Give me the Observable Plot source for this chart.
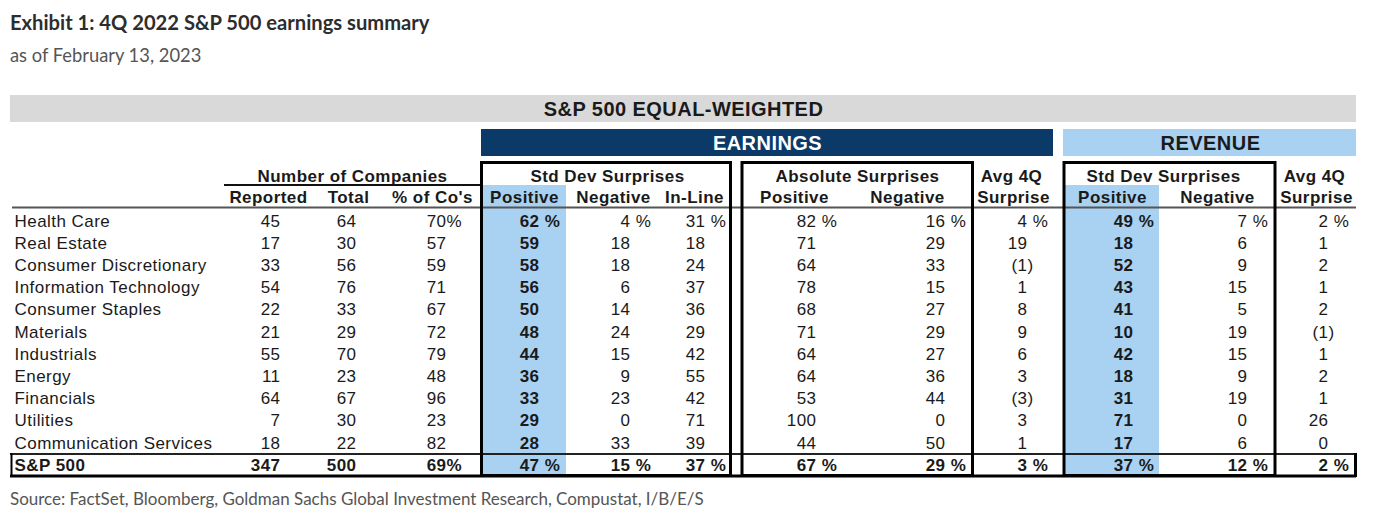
<!DOCTYPE html>
<html><head><meta charset="utf-8">
<script src="https://cdn.jsdelivr.net/npm/d3@7"></script>
<script src="https://cdn.jsdelivr.net/npm/@observablehq/plot@0.6"></script>
<style>
html,body{margin:0;padding:0;background:#fff;}
#page{position:relative;width:1376px;height:528px;overflow:hidden;background:#fff;}
.t{position:absolute;left:10px;white-space:nowrap;font-family:Lato,'Noto Sans',sans-serif;transform-origin:left top;}
#title{top:11px;font-size:21px;line-height:21px;font-weight:700;color:#2d2d2d;transform:scaleX(0.96);}
#subtitle{top:45px;font-size:19px;line-height:19px;color:#555;transform:scaleX(0.965);}
#source{top:489px;font-size:18px;line-height:18px;color:#555;transform:scaleX(0.943);}
#chart{position:absolute;left:0;top:88px;}
#chart svg text{letter-spacing:0.45px;}
#chart g[aria-label="band labels"] text{letter-spacing:0.6px;}
</style></head>
<body>
<div id="page">
  <div class="t" id="title">Exhibit 1: 4Q 2022 S&amp;P 500 earnings summary</div>
  <div class="t" id="subtitle">as of February 13, 2023</div>
  <div id="chart"></div>
  <div class="t" id="source">Source: FactSet, Bloomberg, Goldman Sachs Global Investment Research, Compustat, I/B/E/S</div>
</div>
<script>
// ---------- data ----------
const sectors = ["Health Care","Real Estate","Consumer Discretionary","Information Technology","Consumer Staples","Materials","Industrials","Energy","Financials","Utilities","Communication Services"];
const totalLabel = "S&P 500";
const reported       = [45,17,33,54,22,21,55,11,64,7,18];
const totalCos       = [64,30,56,76,33,29,70,23,67,30,22];
const pctReported    = [70,57,59,71,67,72,79,48,96,23,82];
const epsStdPositive = [62,59,58,56,50,48,44,36,33,29,28];
const epsStdNegative = [4,18,18,6,14,24,15,9,23,0,33];
const epsStdInLine   = [31,18,24,37,36,29,42,55,42,71,39];
const epsAbsPositive = [82,71,64,78,68,71,64,64,53,100,44];
const epsAbsNegative = [16,29,33,15,27,29,27,36,44,0,50];
const epsAvgSurprise = [4,19,-1,1,8,9,6,3,-3,3,1];
const revStdPositive = [49,18,52,43,41,10,42,18,31,71,17];
const revStdNegative = [7,6,9,15,5,19,15,9,19,0,6];
const revAvgSurprise = [2,1,2,1,2,-1,1,2,1,26,0];
const spxTotals      = [347,500,69,47,15,37,67,29,3,37,12,2];

const sectionTitle = "S&P 500 EQUAL-WEIGHTED";
const groupTitles = ["EARNINGS","REVENUE"];
const groupHeaders = ["Number of Companies","Std Dev Surprises","Absolute Surprises","Avg 4Q","Std Dev Surprises","Avg 4Q"];
const columnHeaders = ["Reported","Total","% of Co's","Positive","Negative","In-Line","Positive","Negative","Surprise","Positive","Negative","Surprise"];

const series = [reported,totalCos,pctReported,epsStdPositive,epsStdNegative,epsStdInLine,epsAbsPositive,epsAbsNegative,epsAvgSurprise,revStdPositive,revStdNegative,revAvgSurprise];
const countCols = [0, 1];        // plain counts, never shown with %
const noSpacePctCol = 2;         // "70%" rather than "70 %"

// ---------- layout (page units) ----------
const L = {
  colAnchor: [280,356,446,539,630,705,816,945,1027,1133,1247,1328],
  colHead:   [268,348,432,524,613,694,794,907,1013,1112,1217,1316],
  groupHead: [352,607,857,1011,1163,1314],
  boldCols: [3,9],
  labelX: 14,
  firstBaseline: 226, rowStep: 22.2,
  head1Baseline: 181, head2Baseline: 202,
  sectionBand: {x1:10,x2:1356,y1:95,y2:122,fill:"#d9d9d9"},
  groupBands: [{x1:481,x2:1053,y1:129,y2:156,fill:"#0b3a68"},{x1:1063,x2:1356,y1:129,y2:156,fill:"#a9d1f1"}],
  groupCenters: [767,1210], groupColors: ["#ffffff","#1a1a1a"], bandBaselines: [115.5,149],
  highlight: [{x1:483,x2:566,y1:185,y2:476,fill:"#a9d1f1"},{x1:1064,x2:1159,y1:185,y2:476,fill:"#a9d1f1"}],
  boxes: [{x1:481.5,x2:730.5,y1:162.5,y2:475.5},{x1:742,x2:972.5,y1:162.5,y2:475.5},{x1:1064,x2:1275,y1:162.5,y2:475.5}],
  hLines: [
    {y:184.5,x1:224,x2:481,stroke:"#111",w:2},
    {y:207,x1:12,x2:1356,stroke:"#555",w:2},
    {y:453.5,x1:10,x2:1356,stroke:"#222",w:2},
    {y:475.5,x1:10,x2:1356,stroke:"#000",w:3}
  ],
  vLines: [{x:11,y1:453,y2:477,w:2},{x:1355,y1:453,y2:477,w:3}]
};

const nRows = sectors.length;
const rowY = i => L.firstBaseline + i * L.rowStep;

// cells
const cells = [];
series.forEach((vals, c) => {
  const all = vals.concat([spxTotals[c]]);
  all.forEach((v, i) => {
    const isTotal = i === nRows;
    const pct = (i === 0 || isTotal) && !countCols.includes(c);
    cells.push({
      x: L.colAnchor[c], y: rowY(i),
      main: v < 0 ? "(" + (-v) : String(v),
      suffix: v < 0 ? ")" : pct ? (c === noSpacePctCol ? "%" : "\u00a0%") : "",
      bold: isTotal || L.boldCols.includes(c)
    });
  });
});
const labels = sectors.map((s, i) => ({x: L.labelX, y: rowY(i), text: s}));
const totalLabelRow = [{x: L.labelX, y: rowY(nRows), text: totalLabel}];
const head1 = groupHeaders.map((t, i) => ({x: L.groupHead[i], y: L.head1Baseline, text: t}));
const head2 = columnHeaders.map((t, i) => ({x: L.colHead[i], y: L.head2Baseline, text: t}));
const bandLabels = [
  {x: (L.sectionBand.x1 + L.sectionBand.x2) / 2, y: L.bandBaselines[0], text: sectionTitle, fill: "#1a1a1a"},
  ...groupTitles.map((t, i) => ({x: L.groupCenters[i], y: L.bandBaselines[1], text: t, fill: L.groupColors[i]}))
];

const plot = Plot.plot({
  width: 1376, height: 394, margin: 0,
  x: {type: "linear", domain: [0, 1376], range: [0, 1376], axis: null},
  y: {type: "linear", domain: [88, 482], range: [0, 394], axis: null},
  color: {type: "identity"},
  style: {fontFamily: "'Liberation Sans', Arial, sans-serif", fontSize: "17px", color: "#1a1a1a", background: "white", overflow: "visible"},
  marks: [
    Plot.rect([L.sectionBand, ...L.groupBands, ...L.highlight], {x1: "x1", x2: "x2", y1: "y1", y2: "y2", fill: "fill"}),
    Plot.text(bandLabels, {x: "x", y: "y", text: "text", fill: "fill", fontWeight: "bold", fontSize: 20, lineAnchor: "bottom", ariaLabel: "band labels"}),
    Plot.text(head1, {x: "x", y: "y", text: "text", fontWeight: "bold", fontSize: 17, lineAnchor: "bottom", textAnchor: "middle"}),
    Plot.text(head2, {x: "x", y: "y", text: "text", fontWeight: "bold", fontSize: 17, lineAnchor: "bottom", textAnchor: "middle"}),
    Plot.text(labels, {x: "x", y: "y", text: "text", fontSize: 17, lineAnchor: "bottom", textAnchor: "start"}),
    Plot.text(totalLabelRow, {x: "x", y: "y", text: "text", fontWeight: "bold", fontSize: 17, lineAnchor: "bottom", textAnchor: "start"}),
    Plot.text(cells.filter(d => !d.bold), {x: "x", y: "y", text: "main", fontSize: 17, lineAnchor: "bottom", textAnchor: "end"}),
    Plot.text(cells.filter(d => d.bold), {x: "x", y: "y", text: "main", fontWeight: "bold", fontSize: 17, lineAnchor: "bottom", textAnchor: "end"}),
    Plot.text(cells.filter(d => !d.bold && d.suffix), {x: "x", y: "y", text: "suffix", fontSize: 17, lineAnchor: "bottom", textAnchor: "start"}),
    Plot.text(cells.filter(d => d.bold && d.suffix), {x: "x", y: "y", text: "suffix", fontWeight: "bold", fontSize: 17, lineAnchor: "bottom", textAnchor: "start"}),
    Plot.ruleY(L.hLines, {y: "y", x1: "x1", x2: "x2", stroke: "stroke", strokeWidth: "w"}),
    Plot.ruleX(L.vLines, {x: "x", y1: "y1", y2: "y2", stroke: "#000", strokeWidth: "w"}),
    Plot.rect(L.boxes, {x1: "x1", x2: "x2", y1: "y1", y2: "y2", fill: "none", stroke: "#000", strokeWidth: 3})
  ]
});
document.getElementById("chart").appendChild(plot);
</script>
</body></html>
